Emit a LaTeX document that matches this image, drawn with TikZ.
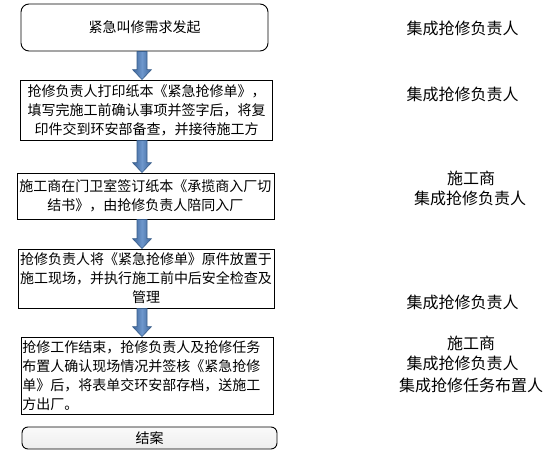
\documentclass[tikz,border=0pt]{standalone}
\usepackage{fontspec}
\newfontfamily\cjk{Noto Sans CJK SC}
\usetikzlibrary{calc}
\definecolor{arrowdark}{HTML}{3B6398}
\definecolor{arrowlight}{HTML}{6E97CC}
\definecolor{arrowborder}{HTML}{385D8A}
\tikzset{%
	stepbox/.style={draw,line width=0.9pt,inner sep=1.5pt,align=center,font=\cjk\fontsize{14}{19}\selectfont}
}
\tikzset{%
	endbox/.style={stepbox,rounded corners=6pt,top color=gray!4,bottom color=gray!14}
}
\tikzset{%
	role/.style={inner sep=0pt,font=\cjk\fontsize{16}{19}\selectfont}
}
\tikzset{%
	blockarrow/.style={draw=arrowborder,line width=0.6pt,left color=arrowdark,right color=arrowdark,middle color=arrowlight}
}

\begin{document}
\begin{tikzpicture}[x=1pt,y=-1pt]
		\useasboundingbox (0,0) rectangle (552,466);
		\coordinate (axis) at (142,0);

		%Steps
		\node [stepbox,rounded corners=8pt,minimum width=247pt,minimum height=47pt] (start) at (144.5,27.5) {紧急叫修需求发起};
		\node [stepbox,minimum width=252pt,minimum height=60pt] (print) at (146.7,110) {抢修负责人打印纸本《紧急抢修单》，\\填写完施工前确认事项并签字后，将复\\印件交到环安部备查，并接待施工方};
		\node [stepbox,minimum width=257pt,minimum height=46pt] (gate) at (145.5,196) {施工商在门卫室签订纸本《承揽商入厂切\\结书》，由抢修负责人陪同入厂};
		\node [stepbox,minimum width=256pt,minimum height=59pt] (site) at (146,278.5) {抢修负责人将《紧急抢修单》原件放置于\\施工现场，并执行施工前中后安全检查及\\管理};
		\node [stepbox,align=left,text width=249pt,minimum height=77pt] (finish) at (147,375.5) {抢修工作结束，抢修负责人及抢修任务\\布置人确认现场情况并签核《紧急抢修\\单》后，将表单交环安部存档，送施工\\方出厂。};
		\node [endbox,minimum width=255pt,minimum height=22pt] (close) at (149.5,438) {结案};

		%Arrows
		\foreach \a/\b in {start/print,print/gate,gate/site,site/finish}{
			\draw [blockarrow] ($(\a.south -| axis)+(-5,0)$) -- ($(\b.north -| axis)+(-5,-10)$) -- ($(\b.north -| axis)+(-9.5,-10)$) -- (\b.north -| axis) -- ($(\b.north -| axis)+(9.5,-10)$) -- ($(\b.north -| axis)+(5,-10)$) -- ($(\a.south -| axis)+(5,0)$) -- cycle;
		}

		%Roles
		\node [role] (r1) at (462.5,28) {集成抢修负责人};
		\node [role] (r2) at (462.5,94) {集成抢修负责人};
		\node [role] (r3a) at (471,178) {施工商};
		\node [role] (r3b) at (470,198) {集成抢修负责人};
		\node [role] (r4) at (462.5,302) {集成抢修负责人};
		\node [role] (r5a) at (471,343) {施工商};
		\node [role] (r5b) at (462.5,363) {集成抢修负责人};
		\node [role] (r5c) at (471,385) {集成抢修任务布置人};

	\end{tikzpicture}
\end{document}
